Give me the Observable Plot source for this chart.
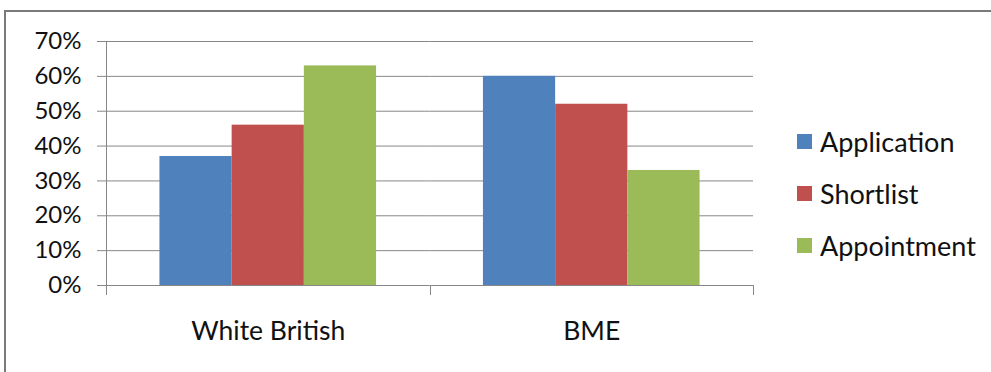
<!DOCTYPE html>
<html>
<head>
<meta charset="utf-8">
<script src="https://cdn.jsdelivr.net/npm/d3@7"></script>
<script src="https://cdn.jsdelivr.net/npm/@observablehq/plot@0.6"></script>
<style>
  html, body { margin: 0; padding: 0; background: #fff; }
  #wrap { position: relative; width: 991px; height: 372px; overflow: hidden; font-family: Lato, "Open Sans", sans-serif; }
  #wrap svg { position: absolute; left: 0; top: 0; }
  #wrap svg text { fill: #111; }
  #border { position: absolute; left: 4px; top: 10px; right: -10px; bottom: -10px; border-top: 2.5px solid #7a7a7a; border-left: 2.5px solid #7a7a7a; pointer-events: none; }
  #legend { position: absolute; left: 797px; top: 116px; }
  .row { display: flex; align-items: center; height: 51.7px; font-size: 27px; color: #111; }
  .sw { width: 15px; height: 15px; margin-right: 8px; }
</style>
</head>
<body>
<div id="wrap"><div id="legend"></div><div id="border"></div></div>
<script>
// ---- data ----
const groups = ["White British", "BME"];
const series = ["Application", "Shortlist", "Appointment"];
const application = [0.37, 0.60];
const shortlist = [0.46, 0.52];
const appointment = [0.63, 0.33];
const yTicks = [0, 0.1, 0.2, 0.3, 0.4, 0.5, 0.6, 0.7];

const colors = ["#4F81BD", "#C0504D", "#9BBB59"];
const gridColor = "#878787";

const valuesBySeries = [application, shortlist, appointment];
const rows = [];
groups.forEach((g, gi) => series.forEach((s, si) => rows.push({group: g, series: s, value: valuesBySeries[si][gi]})));

const chart = Plot.plot({
  width: 991,
  height: 372,
  marginLeft: 106,
  marginRight: 238,
  marginTop: 41,
  marginBottom: 87,
  style: {background: "transparent", fontFamily: "Lato, 'Open Sans', sans-serif", fontSize: "24px", color: gridColor, overflow: "visible"},
  fx: {domain: groups, padding: 0, round: false, axis: null, label: null},
  x: {domain: series, paddingInner: 0, paddingOuter: 0.74, round: false, axis: null, label: null},
  y: {domain: [0, 0.7], ticks: yTicks, tickFormat: d3.format(".0%"), tickSize: 9, tickPadding: 16, label: null},
  color: {domain: series, range: colors},
  marks: [
    Plot.ruleY(yTicks, {stroke: gridColor, strokeWidth: 1}),
    Plot.barY(rows, {fx: "group", x: "series", y: "value", fill: "series"}),
    Plot.text(groups, {fx: d => d, text: d => d, frameAnchor: "bottom", dy: 54, fontSize: 26.5, fill: "#111"})
  ]
});

// boundary ticks and y-axis line, from the library's scales
const fxS = chart.scale("fx");
const yS = chart.scale("y");
const yPos = v => yS.apply ? yS.apply(v) : yS.range[0] + (v - yS.domain[0]) / (yS.domain[1] - yS.domain[0]) * (yS.range[1] - yS.range[0]);
const r0 = fxS.range[0], r1 = fxS.range[1];
const step = (r1 - r0) / groups.length;
const g = d3.select(chart).append("g").attr("stroke", gridColor).attr("stroke-width", 1);
const bounds = d3.range(groups.length + 1).map(i => r0 + i * step);
g.selectAll("line").data(bounds).join("line")
  .attr("x1", d => Math.round(d) + 0.5).attr("x2", d => Math.round(d) + 0.5)
  .attr("y1", (d, i) => i === 0 ? yPos(yTicks[yTicks.length - 1]) : yPos(0))
  .attr("y2", yPos(0) + 10);

document.getElementById("wrap").prepend(chart);

// legend
const legend = d3.select("#legend");
series.forEach((s, i) => {
  const r = legend.append("div").attr("class", "row");
  r.append("div").attr("class", "sw").style("background", colors[i]);
  r.append("span").text(s);
});
</script>
</body>
</html>
